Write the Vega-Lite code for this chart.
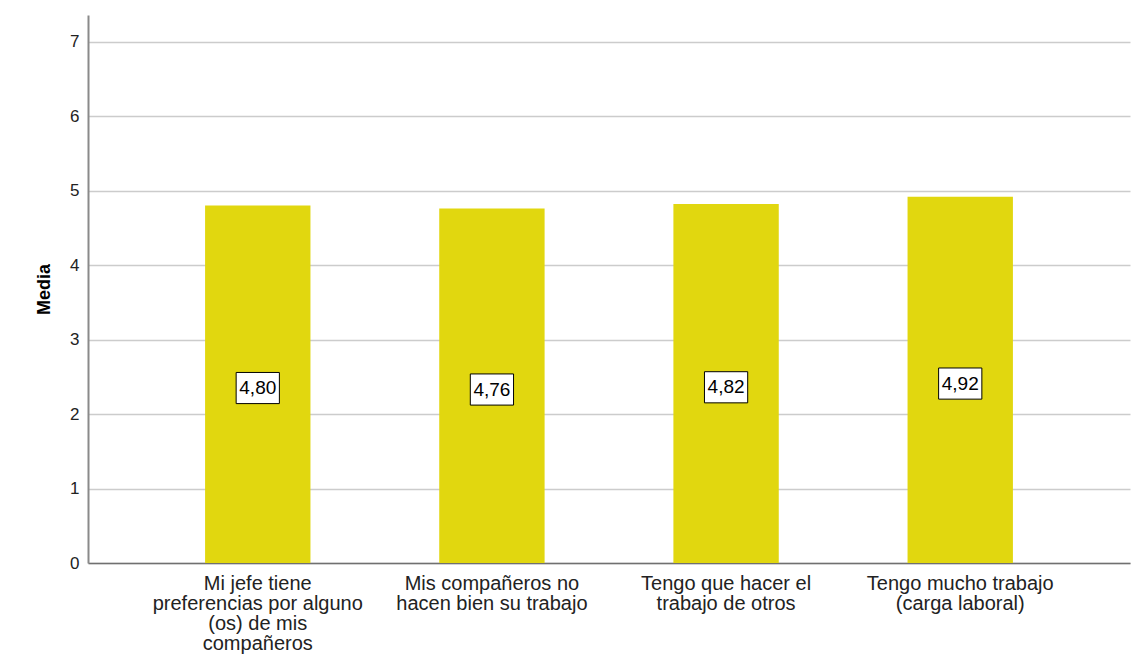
{
  "$schema": "https://vega.github.io/schema/vega-lite/v6.json",
  "width": 1042,
  "height": 548,
  "autosize": {"type": "none"},
  "padding": {"left": 88, "top": 15, "right": 9, "bottom": 108},
  "background": "white",
  "config": {
    "font": "Liberation Sans",
    "view": {"stroke": null},
    "locale": {"number": {"decimal": ",", "thousands": ".", "grouping": [3], "currency": ["", " €"]}}
  },
  "data": {
    "values": [
      {"item": "Mi jefe tiene|preferencias por alguno|(os) de mis|compañeros", "media": 4.80},
      {"item": "Mis compañeros no|hacen bien su trabajo", "media": 4.76},
      {"item": "Tengo que hacer el|trabajo de otros", "media": 4.82},
      {"item": "Tengo mucho trabajo|(carga laboral)", "media": 4.92}
    ]
  },
  "encoding": {
    "x": {
      "field": "item",
      "type": "nominal",
      "sort": null,
      "scale": {"paddingInner": 0.55, "paddingOuter": 0.5},
      "axis": {
        "title": null,
        "labelAngle": 0,
        "labelExpr": "split(datum.label, '|')",
        "labelFontSize": 20,
        "labelLineHeight": 20,
        "labelColor": "#222222",
        "labelPadding": 10,
        "labelLimit": 0,
        "labelOverlap": false,
        "ticks": false,
        "domainColor": "#707070",
        "domainWidth": 1.5
      }
    }
  },
  "layer": [
    {
      "mark": {"type": "bar", "color": "#e1d70f"},
      "encoding": {
        "y": {
          "field": "media",
          "type": "quantitative",
          "scale": {"domain": [0, 7.36], "nice": false},
          "axis": {
            "title": "Media",
            "titleFontSize": 18,
            "titleFontWeight": "bold",
            "titleColor": "black",
            "titlePadding": 16,
            "values": [0, 1, 2, 3, 4, 5, 6, 7],
            "grid": true,
            "gridColor": "#cccccc",
            "gridWidth": 1.5,
            "ticks": false,
            "domainColor": "#8a8a8a",
            "domainWidth": 2,
            "labelFontSize": 17,
            "labelColor": "#222222",
            "labelPadding": 9
          }
        }
      }
    },
    {
      "mark": {"type": "point", "shape": "M-1,-0.72L1,-0.72L1,0.72L-1,0.72Z", "size": 1870, "filled": true, "fill": "white", "stroke": "black", "strokeWidth": 1, "opacity": 1},
      "encoding": {
        "y": {"field": "media", "type": "quantitative", "scale": {"domain": [0.1, 14.82], "nice": false}, "axis": null}
      }
    },
    {
      "mark": {"type": "text", "fontSize": 19, "color": "black", "baseline": "middle", "align": "center"},
      "encoding": {
        "y": {"field": "media", "type": "quantitative", "scale": {"domain": [0.1, 14.82], "nice": false}, "axis": null},
        "text": {"field": "media", "type": "quantitative", "format": ".2f"}
      }
    }
  ],
  "resolve": {"scale": {"y": "independent"}}
}
